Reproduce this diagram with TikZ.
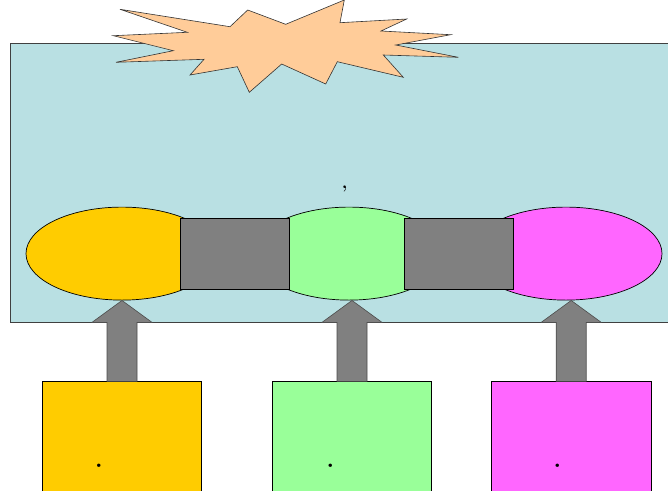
\documentclass[tikz,border=0pt]{standalone}
\usetikzlibrary{shapes.geometric,calc}
\definecolor{panelfill}{RGB}{185,224,227}
\definecolor{starfill}{RGB}{255,204,153}
\definecolor{cyel}{RGB}{255,204,0}
\definecolor{cgrn}{RGB}{153,255,153}
\definecolor{cmag}{RGB}{255,102,255}
\definecolor{cgray}{RGB}{128,128,128}
\tikzset{
  panelbox/.style={rectangle, draw=black!75, fill=panelfill, line width=0.7pt, inner sep=0pt, minimum width=670pt, minimum height=279pt},
  blob/.style={ellipse, draw=black, line width=0.7pt, inner sep=0pt, minimum width=192pt, minimum height=93pt},
  link/.style={rectangle, draw=black, fill=cgray, line width=0.7pt, inner sep=0pt, minimum width=109pt, minimum height=71.5pt},
  srcbox/.style={rectangle, draw=black, line width=0.8pt, inner sep=0pt, minimum width=159.5pt, minimum height=167pt},
  uparrow/.style={draw=black!70, fill=cgray, line width=0.6pt},
  burst/.style={draw=black!80, fill=starfill, line width=0.6pt},
  mark label/.style={inner sep=0pt, font=\fontsize{24}{28}\selectfont\bfseries},
  comma label/.style={inner sep=0pt, font=\fontsize{18}{22}\selectfont\bfseries}
}
\begin{document}
\begin{tikzpicture}[x=1pt,y=-1pt]
\clip (0,0) rectangle (668,490);
\node[panelbox] (panel) at (345,182.5) {};
\draw[burst] (120,9.3) -- (230,26.7) -- (247.7,10) -- (285.7,24.3) -- (344.3,0) -- (340,22.7)
  -- (406.7,19) -- (381,31) -- (450.7,34.7) -- (395.7,45) -- (458.3,57.3) -- (383.3,55)
  -- (403.3,77.3) -- (337.3,61.7) -- (325.7,84) -- (281.7,64) -- (249.3,92.3) -- (237.3,66.7)
  -- (190,75) -- (204,59.3) -- (116,62.3) -- (173.3,50.7) -- (113.3,35.7) -- (187.3,32.3) -- cycle;
\node[comma label] (comma) at (344.7,189) {,};
\node[blob, fill=cyel] (e1) at (122,253.6) {};
\node[blob, fill=cgrn] (e2) at (349,253.6) {};
\node[blob, fill=cmag] (e3) at (566,253.6) {};
\node[link] (r1) at (234.5,253.8) {};
\node[link] (r2) at (458.5,253.8) {};
\node[srcbox, fill=cyel] (b1) at (122,465.3) {};
\node[srcbox, fill=cgrn] (b2) at (352,465.3) {};
\node[srcbox, fill=cmag] (b3) at (571.2,465.3) {};
\node[mark label] (d1) at (99,465.3) {.};
\node[mark label] (d2) at (330.5,465.3) {.};
\node[mark label] (d3) at (557.3,465.3) {.};
\foreach \b/\e in {b1/e1,b2/e2,b3/e3}{
  \draw[uparrow] ($(\b.north)+(-15,0)$) -- ($(\b.north |- panel.south)+(-15,0)$)
    -- ($(\b.north |- panel.south)+(-30,0)$) -- (\b.north |- \e.south)
    -- ($(\b.north |- panel.south)+(30,0)$) -- ($(\b.north |- panel.south)+(15,0)$)
    -- ($(\b.north)+(15,0)$) -- cycle;
}
\end{tikzpicture}
\end{document}
